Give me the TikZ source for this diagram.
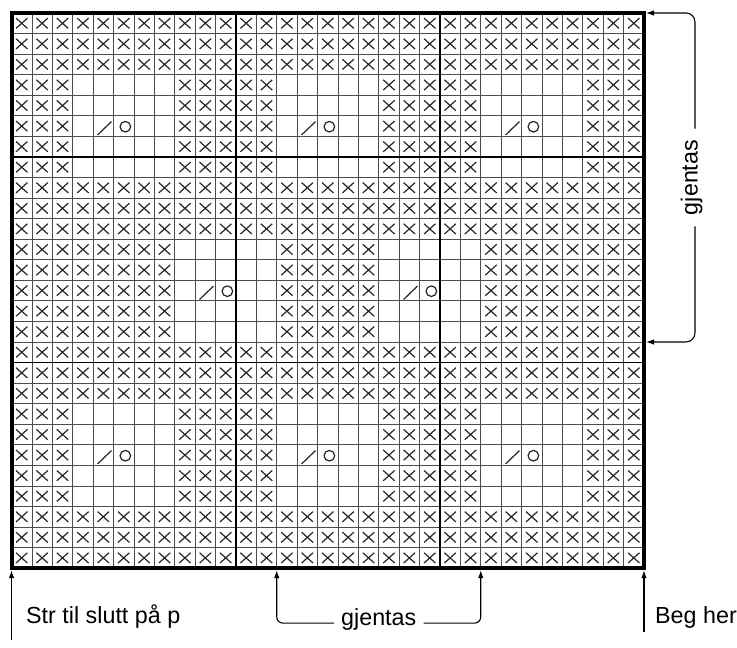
\documentclass[tikz,border=0pt]{standalone}
\usepackage{fontspec}
\setmainfont{Liberation Sans}
\usetikzlibrary{arrows.meta}

\begin{document}
\begin{tikzpicture}[x=20.4pt,y=-20.56pt,>={Latex[length=8pt,width=5.5pt]},
  cellline/.style={line width=0.8pt,color=black!70},
  divline/.style={line width=1.8pt},
  stitch/.style={line width=1.2pt,color=black!85},
  note/.style={font=\fontsize{23.3}{28}\selectfont,inner sep=0pt},
  bracket/.style={->,line width=1.1pt}]

\useasboundingbox (-0.564,-0.632) rectangle (35.56,30.88);

\foreach \c in {0,...,30}
  \foreach \r in {0,...,26}
    \draw[stitch] (\c+0.22,\r+0.25)--(\c+0.78,\r+0.75) (\c+0.22,\r+0.75)--(\c+0.78,\r+0.25);

\fill[white] (3,3) rectangle (8,8) (13,3) rectangle (18,8) (23,3) rectangle (28,8)
  (8,11) rectangle (13,16) (18,11) rectangle (23,16)
  (3,19) rectangle (8,24) (13,19) rectangle (18,24) (23,19) rectangle (28,24);

\foreach \c in {1,...,30} \draw[cellline] (\c,0)--(\c,27);
\foreach \r in {1,...,26} \draw[cellline] (0,\r)--(31,\r);

\draw[divline] (11,0)--(11,27) (21,0)--(21,27) (0,7)--(31,7) (0,17)--(31,17);
\draw[line width=4pt] (0,0) rectangle (31,27);

\foreach \c/\r in {4/5,14/5,24/5,9/13,19/13,4/21,14/21,24/21}{
  \draw[stitch] (\c+0.22,\r+0.93)--(\c+0.9,\r+0.28);
  \draw[stitch] (\c+1.58,\r+0.53) circle[radius=5.3pt];
}

\coordinate (bL) at (13,27.1);
\coordinate (bR) at (23,27.1);
\coordinate (rTop) at (31.1,0);
\coordinate (rBot) at (31.1,16);
\coordinate (strTip) at (0,27.1);
\coordinate (strEnd) at (0,30.5);
\coordinate (begTip) at (31,27.1);
\coordinate (begEnd) at (31,30.1);

\node[note,anchor=base west] (str) at (0.71,29.68) {Str til slutt på p};
\node[note,anchor=base west] (beg) at (31.54,29.68) {Beg her};
\node[note,anchor=mid,inner xsep=7pt] (gjB) at (18,29.67) {gjentas};
\node[note,anchor=mid,rotate=90,inner xsep=11pt] (gjR) at (33.5,8) {gjentas};

\draw[bracket] (strEnd)--(strTip);
\draw[bracket] (begEnd)--(begTip);
\draw[bracket,rounded corners=6pt] (gjB.mid west) -| (bL);
\draw[bracket,rounded corners=6pt] (gjB.mid east) -| (bR);
\draw[bracket,rounded corners=9pt] (gjR.mid east) |- (rTop);
\draw[bracket,rounded corners=9pt] (gjR.mid west) |- (rBot);

\end{tikzpicture}
\end{document}
